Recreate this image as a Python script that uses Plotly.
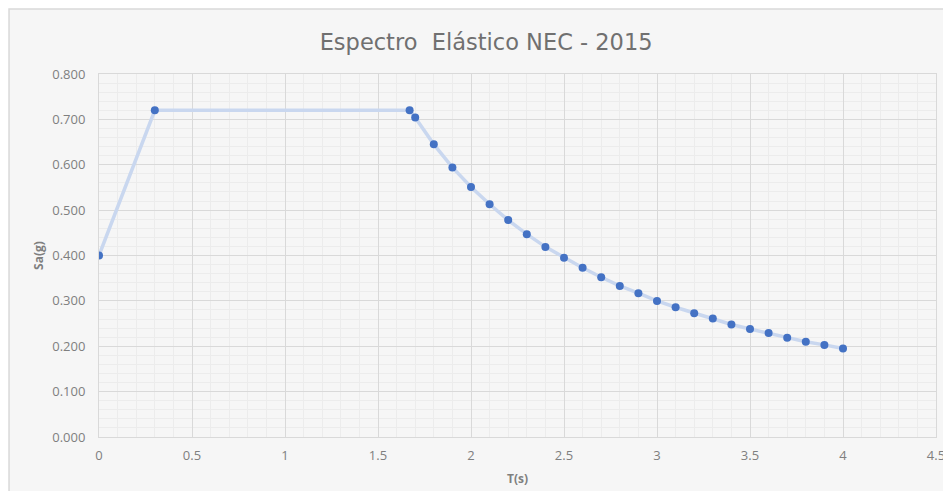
import plotly.graph_objects as go

T = [0.0, 0.3, 1.67, 1.7, 1.8, 1.9, 2.0, 2.1, 2.2, 2.3, 2.4, 2.5, 2.6, 2.7, 2.8,
     2.9, 3.0, 3.1, 3.2, 3.3, 3.4, 3.5, 3.6, 3.7, 3.8, 3.9, 4.0]
Sa = [0.400, 0.720, 0.720, 0.704, 0.645, 0.594, 0.551, 0.513, 0.478, 0.447, 0.419,
      0.395, 0.373, 0.352, 0.333, 0.317, 0.300, 0.286, 0.273, 0.261, 0.248, 0.238,
      0.229, 0.219, 0.210, 0.203, 0.195]

title_text = "Espectro  Elástico NEC - 2015"
x_title = "T(s)"
y_title = "Sa(g)"

fig = go.Figure()
fig.add_trace(go.Scatter(
    x=T, y=Sa, mode="lines+markers",
    line=dict(color="#c9d7ef", width=3.5),
    marker=dict(color="#4472c4", size=8),
    showlegend=False,
))

fig.add_shape(type="rect", xref="paper", yref="paper",
              x0=-0.1075, x1=1.05, y0=-0.25, y1=1.179,
              fillcolor="#f6f6f6", line=dict(color="#d9d9d9", width=1.5),
              layer="below")

font_fam = "Open Sans, Noto Sans, sans-serif"
# page body has an 8px margin, so the figure is sized to fit inside it
fig.update_layout(
    width=943, height=483,
    margin=dict(l=91, r=15, t=66, b=54),
    paper_bgcolor="#ffffff",
    plot_bgcolor="#fbfbfb",
    font=dict(family=font_fam, color="#7f7f7f", size=13),
    title=dict(text=title_text, x=0.507, xanchor="center", y=1 - 34 / 483, yanchor="middle",
               font=dict(size=22.5, color="#707070", family="DejaVu Sans, sans-serif")),
    xaxis=dict(
        range=[0, 4.5], dtick=0.5, tick0=0, automargin=False,
        showgrid=True, gridcolor="#d9d9d9", gridwidth=1,
        minor=dict(dtick=0.1, showgrid=True, gridcolor="#ececec", gridwidth=1),
        showline=True, linecolor="#d9d9d9", linewidth=1,
        zeroline=False,
        ticks="outside", ticklen=6, tickcolor="rgba(0,0,0,0)",
        tickfont=dict(size=13, color="#7f7f7f"),
        title=dict(text="<b>" + x_title + "</b>", font=dict(size=12, color="#7f7f7f"), standoff=12),
        mirror=True,
    ),
    yaxis=dict(
        range=[0, 0.8], dtick=0.1, tick0=0, tickformat=".3f", automargin=False,
        showgrid=True, gridcolor="#d9d9d9", gridwidth=1,
        minor=dict(dtick=0.02, showgrid=True, gridcolor="#ececec", gridwidth=1),
        showline=True, linecolor="#d9d9d9", linewidth=1,
        zeroline=False,
        ticks="outside", ticklen=10, tickcolor="rgba(0,0,0,0)",
        tickfont=dict(size=13, color="#7f7f7f"),
        title=dict(text="<b>" + y_title + "</b>", font=dict(size=12, color="#7f7f7f"), standoff=6),
        mirror=True,
    ),
)

fig.write_html("out.html")
